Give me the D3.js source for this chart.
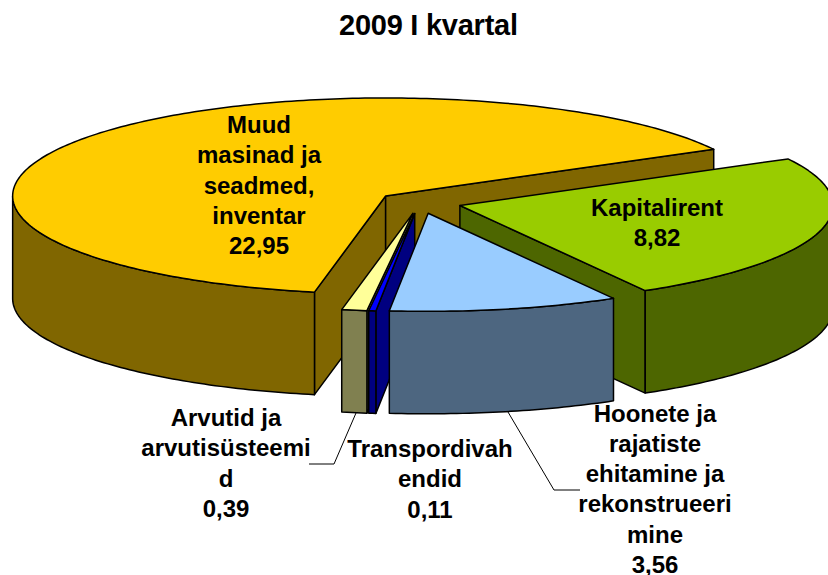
<!DOCTYPE html>
<html>
<head>
<meta charset="utf-8">
<title>2009 I kvartal</title>
<script src="https://d3js.org/d3.v7.min.js"></script>
<style>
body{margin:0;background:#fff;overflow:hidden;}
svg{display:block;}
text{font-family:"Liberation Sans",Arial,sans-serif;font-weight:bold;fill:#000;text-anchor:middle;}
</style>
</head>
<body>
<script>
var title="2009 I kvartal";
var categories=["Muud masinad ja seadmed, inventar","Kapitalirent","Hoonete ja rajatiste ehitamine ja rekonstrueerimine","Transpordivahendid","Arvutid ja arvutisüsteemid"];
var values=[22.95,8.82,3.56,0.11,0.39];
var valueLabels=["22,95","8,82","3,56","0,11","0,39"];
var topColors=["#FFCC00","#99CC00","#99CCFF","#0000FF","#FFFF99"];
var sideColors=["#806600","#4D6600","#4D6680","#000080","#808050"];
// how the labels wrap in the box excel gave them
var labelLines=[
    ["Muud","masinad ja","seadmed,","inventar"],
    ["Kapitalirent"],
    ["Hoonete ja","rajatiste","ehitamine ja","rekonstrueeri","mine"],
    ["Transpordivah","endid"],
    ["Arvutid ja","arvutisüsteemi","d"]
];

var width=828,height=575;
var cx=419.5,cy=202.5,rx=373,ry=98,depth=102.5,explode=42;
var firstAngle=191*Math.PI/180;
var drawOrder=[0,1,4,3,2]; //back to front

var svg=d3.select("body").append("svg").attr("width",width).attr("height",height);

var slices=d3.pie().value(function(d){return d;}).sort(null)
    .startAngle(firstAngle).endAngle(firstAngle+2*Math.PI)(values);

var line=d3.line();

function pt(apex,a,r,drop){
    return [apex[0]+r*rx*Math.sin(a),apex[1]-r*ry*Math.cos(a)+drop];
}

function arcPoints(apex,a0,a1,drop){
    var n=Math.max(2,Math.ceil(Math.abs(a1-a0)*60));
    return d3.range(n+1).map(function(i){
        return pt(apex,a0+(a1-a0)*i/n,1,drop);
    });
}

function poly(points,fill){
    svg.append("path")
        .attr("d",line(points)+"Z")
        .attr("fill",fill)
        .attr("stroke","#000")
        .attr("stroke-width",1.5)
        .attr("stroke-linejoin","round");
}

function drawSlice(s,i){
    var mid=(s.startAngle+s.endAngle)/2;
    var apex=pt([cx,cy],mid,explode/rx,0);
    var side=sideColors[i];
    // cut faces, only those turned to the viewer
    [[s.startAngle,-1],[s.endAngle,1]].forEach(function(e){
        if(Math.sin(e[0])*e[1]>0){
            var p=pt(apex,e[0],1,0);
            poly([apex,p,[p[0],p[1]+depth],[apex[0],apex[1]+depth]],side);
        }
    });
    // outer wall, front half of the rim
    [0,2*Math.PI].forEach(function(turn){
        var a0=Math.max(s.startAngle,Math.PI/2+turn);
        var a1=Math.min(s.endAngle,3*Math.PI/2+turn);
        if(a1>a0){
            var upper=arcPoints(apex,a0,a1,0);
            var lower=arcPoints(apex,a1,a0,depth);
            poly(upper.concat(lower),side);
        }
    });
    poly([apex].concat(arcPoints(apex,s.startAngle,s.endAngle,0)),topColors[i]);
}

drawOrder.forEach(function(i){
    drawSlice(slices[i],i);
});

// leader lines for the two labels outside
var leaders=[
    [[356,413],[334,464],[309,464]],
    [[508,412],[554,490],[580,490]]
];
leaders.forEach(function(l){
    svg.append("path").attr("d",line(l)).attr("fill","none").attr("stroke","#000").attr("stroke-width",1);
});

svg.append("text").attr("x",428.5).attr("y",35).attr("font-size",29)
    .attr("textLength",179).attr("lengthAdjust","spacing").text(title);

// label centre x and first baseline
var labelX=[259,657,655,430,226];
var labelY=[133,216,421.5,457,426];
var lineGap=30.3;
labelLines.forEach(function(lines,i){
    lines.concat([valueLabels[i]]).forEach(function(t,j){
        svg.append("text")
            .attr("x",labelX[i])
            .attr("y",labelY[i]+j*lineGap)
            .attr("font-size",24)
            .text(t);
    });
});
</script>
</body>
</html>
